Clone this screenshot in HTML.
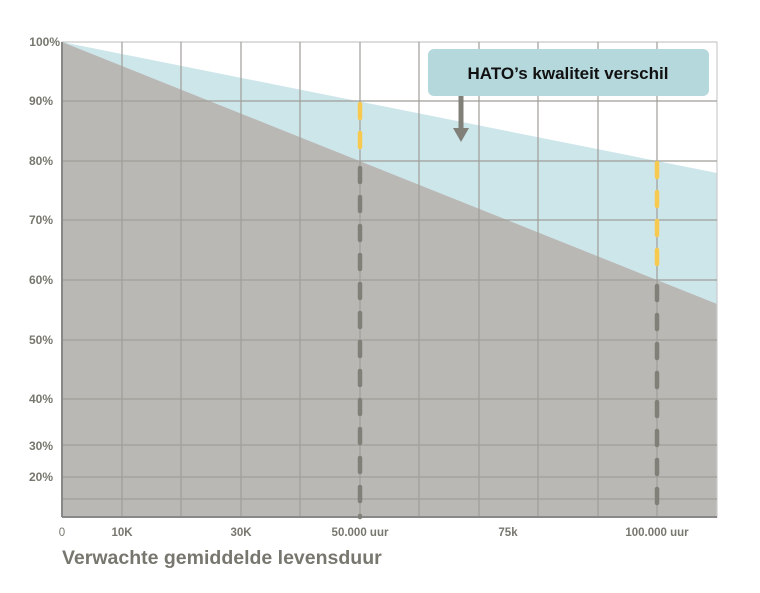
<!DOCTYPE html>
<html><head><meta charset="utf-8"><style>
body{margin:0;background:#fff;width:760px;height:588px;overflow:hidden}
svg text{font-family:"Liberation Sans",sans-serif;font-weight:bold;fill:#77776f}
</style></head><body>
<svg width="760" height="588" xmlns="http://www.w3.org/2000/svg">
<rect x="62" y="42" width="655" height="475" fill="#fff" stroke="#bbb"/>
<polygon points="62,42 717,173 717,517 62,517" fill="#cde6ea"/>
<polygon points="62,42 717,304 717,517 62,517" fill="#bab8b4"/>
<g stroke="#9f9e99" stroke-width="1.2">
<line x1="122" y1="42" x2="122" y2="517"/><line x1="181" y1="42" x2="181" y2="517"/>
<line x1="241" y1="42" x2="241" y2="517"/><line x1="300" y1="42" x2="300" y2="517"/>
<line x1="360" y1="42" x2="360" y2="517"/><line x1="419" y1="42" x2="419" y2="517"/>
<line x1="479" y1="42" x2="479" y2="517"/><line x1="538" y1="42" x2="538" y2="517"/>
<line x1="598" y1="42" x2="598" y2="517"/><line x1="657" y1="42" x2="657" y2="517"/>
<line x1="717" y1="42" x2="717" y2="517" stroke="#ccc"/>
<line x1="62" y1="101" x2="717" y2="101"/><line x1="62" y1="161" x2="717" y2="161"/>
<line x1="62" y1="220" x2="717" y2="220"/><line x1="62" y1="280" x2="717" y2="280"/>
<line x1="62" y1="340" x2="717" y2="340"/><line x1="62" y1="399" x2="717" y2="399"/>
<line x1="62" y1="445" x2="717" y2="445"/><line x1="62" y1="477" x2="717" y2="477"/>
<line x1="62" y1="499" x2="717" y2="499"/>
<line x1="62" y1="42" x2="62" y2="517" stroke="#888" stroke-width="2"/>
<line x1="62" y1="517" x2="717" y2="517" stroke="#888" stroke-width="2"/>
</g>
<g stroke-width="4.5" stroke-linecap="round" fill="none">
<line x1="360" y1="104" x2="360" y2="161" stroke="#f7c94f" stroke-dasharray="14 15"/>
<line x1="360" y1="168" x2="360" y2="517" stroke="#807f78" stroke-dasharray="14 15"/>
<line x1="657" y1="163" x2="657" y2="279" stroke="#f7c94f" stroke-dasharray="14 15"/>
<line x1="657" y1="286" x2="657" y2="517" stroke="#807f78" stroke-dasharray="14 15"/>
</g>
<rect x="428" y="49" width="281" height="47" rx="6" fill="#b5d8dd"/>
<text x="568" y="79" text-anchor="middle" font-size="17" style="fill:#111">HATO’s kwaliteit verschil</text>
<line x1="461" y1="96" x2="461" y2="132" stroke="#808078" stroke-width="5"/>
<polygon points="453,128 469,128 461,142" fill="#808078"/>
<g font-size="12" text-anchor="end">
<text x="60" y="46">100%</text><text x="53" y="105">90%</text><text x="53" y="165">80%</text>
<text x="53" y="224">70%</text><text x="53" y="284">60%</text><text x="53" y="344">50%</text>
<text x="53" y="403">40%</text><text x="53" y="450">30%</text><text x="53" y="481">20%</text>
</g>
<g font-size="11.5" text-anchor="middle">
<text x="62" y="536" style="font-weight:normal">0</text><text x="122" y="536">10K</text>
<text x="241" y="536">30K</text><text x="360" y="536">50.000 uur</text>
<text x="508" y="536">75k</text><text x="657" y="536">100.000 uur</text>
</g>
<text x="62" y="564" font-size="19.5">Verwachte gemiddelde levensduur</text>
</svg>
</body></html>
